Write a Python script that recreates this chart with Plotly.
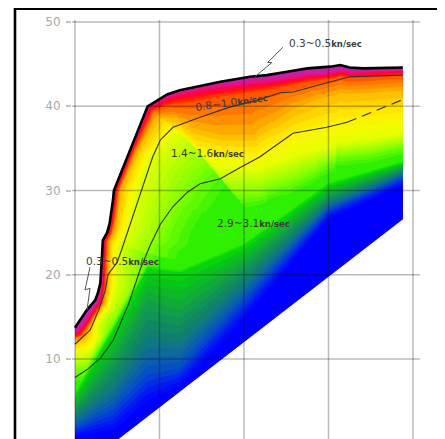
import numpy as np
import plotly.graph_objects as go

# ---------------- data ----------------
# top boundary (ground surface) of the section
surf_x = [0.0, 0.06, 0.14, 0.24, 0.27, 0.30, 0.31, 0.33, 0.38, 0.41, 0.45, 0.46, 0.86,
          0.97, 1.09, 1.24, 1.48, 1.72, 2.07, 2.27, 2.51, 2.75, 3.02, 3.14, 3.25, 3.41, 3.88]
surf_y = [13.7, 14.6, 15.8, 17.0, 17.8, 19.0, 20.9, 24.1, 25.0, 26.1, 28.9, 30.0, 40.0,
          40.7, 41.4, 41.9, 42.4, 42.9, 43.5, 43.7, 44.1, 44.5, 44.7, 44.9, 44.6, 44.5, 44.6]
# bottom (diagonal) boundary
bottom_x = [0.0, 3.88]
bottom_y = [-3.6, 26.5]

# shallow velocity bands: distance (px) below the surface, at stations along the surface
st_x     = [0.0, 0.1, 0.24, 0.33, 0.45, 0.65, 0.86, 1.24, 1.6, 2.0, 2.5, 3.0, 3.4, 3.88]
d_mag    = [4,   5,   3,    0.4,  0.4,  0.4,  0.5,  0.6,  1.0, 4,   5,   6,   3,   2]
d_red    = [9,   9,   7,    3.5,  3.5,  3.5,  6,    13,   14,  15,  14,  12,  9,   7]
d_orange = [13,  11.5, 10,  6.5,  6.5,  7,    13,   37,   52,  58,  38,  29,  25,  23]
d_yellow = [27,  17,  16,   15,   22,   22,   45,   75,   88,  94,  84,  81,  72,  66]
d_yg     = [45,  32,  30,   45,   70,   80,   105,  110,  118, 120, 108, 96,  88,  80]
d_green  = [55,  45,  45,   65,   95,   105,  135,  128,  132, 129, 118, 106, 97,  88]
shallow_v = [0.3, 0.4, 1.0, 1.4, 2.0, 2.8, 3.05]

# deep velocity isolines (depth value) at columns
deep_x = [0.0, 0.45, 0.86, 1.24, 2.0, 3.0, 3.88]
deep_v = [3.2, 3.6, 4.0, 4.4, 4.8]
y_v32 = [5.73, 13.4, 20.8, 20.3, 23.5, 30.7, 33.3]
y_v36 = [4.19, 9.9, 17.0, 15.8, 21.2, 29.5, 32.7]
y_v40 = [3.0, 6.6, 12.3, 12.0, 19.0, 28.5, 32.1]
y_v44 = [1.8, 4.0, 8.1, 8.9, 17.0, 27.7, 31.5]
y_v48 = [0.87, 1.6, 5.1, 6.8, 14.9, 26.7, 30.7]

# colour of velocity (km/sec)
vel_anchor = [0.35, 0.5, 0.7, 0.9, 1.1, 1.3, 1.5, 1.7, 1.9, 2.1, 2.3, 2.5, 2.7, 2.9,
              3.1, 3.3, 3.5, 3.7, 3.9, 4.1, 4.3, 4.5, 4.7, 4.85]
col_anchor = ["#c81ea6", "#e81080", "#ff0038", "#ff2000", "#ff6a00", "#ff9c00", "#ffcc00",
              "#fff000", "#f0ff00", "#d4ff00", "#b8ff00", "#9cff00", "#7cff00", "#55f800",
              "#22ee00", "#00cc10", "#10b030", "#109850", "#108468", "#107090", "#0858b8",
              "#0038e0", "#0010f8", "#0000ff"]

# layer boundary lines
line_a_x = [0.0, 0.18, 0.28, 0.36, 0.39, 0.50, 0.56, 0.62, 0.69, 0.77, 0.85, 0.92, 1.01,
            1.16, 1.48, 1.83, 2.15, 2.43, 2.58, 2.98, 3.25, 3.88]
line_a_y = [11.75, 13.45, 15.8, 18.2, 20.0, 21.5, 23.2, 25.0, 27.3, 29.7, 32.1, 34.0, 36.0,
            37.5, 38.7, 39.9, 40.7, 41.6, 41.7, 42.8, 43.5, 43.7]
line_b_x = [0.0, 0.15, 0.30, 0.45, 0.63, 0.77, 0.89, 1.01, 1.16, 1.33, 1.48, 1.72, 1.95,
            2.19, 2.58, 2.98, 3.22]
line_b_y = [7.8, 8.8, 10.1, 12.2, 16.4, 20.6, 23.5, 26.0, 28.1, 29.8, 30.8, 31.4, 32.7,
            34.0, 36.8, 37.5, 38.1]
line_b_dash_x = [3.22, 3.88]
line_b_dash_y = [38.1, 40.8]

# labels
label_main = ["0.3~0.5", "0.8~1.0", "1.4~1.6", "2.9~3.1", "0.3~0.5"]
label_unit = "kn/sec"
label_x = [2.97, 1.85, 1.57, 2.11, 0.56]
label_y = [47.5, 40.5, 34.4, 26.1, 21.6]
label_angle = [0, -8, 0, 0, 0]
leader1_x = [2.46, 2.28, 2.33, 2.13]
leader1_y = [47.0, 45.2, 45.2, 43.5]
leader2_x = [0.178, 0.118, 0.178, 0.142]
leader2_y = [20.9, 18.2, 18.4, 15.8]

x_ticks = [0, 1, 2, 3, 4]
y_ticks = [10, 20, 30, 40, 50]

# ---------------- velocity field ----------------
PXX, PXY = 84.5, 8.425
gx = np.linspace(0.0, 3.88, 260)
gy = np.linspace(-4.0, 45.6, 360)
GX, GY = np.meshgrid(gx, gy)
PX, PY = GX * PXX, GY * PXY
sx = np.array(surf_x) * PXX
sy = np.array(surf_y) * PXY
best = np.full(GX.shape, np.inf)
bestx = np.zeros(GX.shape)
for i in range(len(sx) - 1):
    ax, ay, bx, by = sx[i], sy[i], sx[i + 1], sy[i + 1]
    dx, dy = bx - ax, by - ay
    t = np.clip(((PX - ax) * dx + (PY - ay) * dy) / (dx * dx + dy * dy), 0, 1)
    qx, qy = ax + t * dx, ay + t * dy
    d = np.hypot(PX - qx, PY - qy)
    m = d < best
    best = np.where(m, d, best)
    bestx = np.where(m, qx / PXX, bestx)


def ramp(val, keys, vals):
    out = np.full(val.shape, float(vals[0]))
    for i in range(len(vals) - 1):
        k0, k1 = keys[i], keys[i + 1]
        t = np.clip((val - k0) / np.maximum(k1 - k0, 1e-6), 0, 1)
        out = out + t * (vals[i + 1] - vals[i])
    return out


skeys = [np.zeros(GX.shape)] + [np.interp(bestx, st_x, a) for a in
                                 (d_mag, d_red, d_orange, d_yellow, d_yg, d_green)]
v_s = ramp(best, skeys, shallow_v)

dkeys = [-np.interp(GX, deep_x, a) for a in (y_v32, y_v36, y_v40, y_v44, y_v48)]
e = -GY
v_d = ramp(e, dkeys, deep_v) - np.clip(dkeys[0] - e, 0, None) * 0.6
v_d = v_d + np.clip(e - dkeys[-1], 0, None) * 0.1
V = np.minimum(np.maximum(v_s, v_d), 5.0)

c_start, c_end, c_size = 0.4, 4.8, 0.1
cmin, cmax = c_start - c_size / 2, c_end + c_size / 2
colorscale = [[min(max((v - cmin) / (cmax - cmin), 0), 1), c]
              for v, c in zip(vel_anchor, col_anchor)]

fig = go.Figure()
fig.add_trace(go.Contour(
    x=gx, y=gy, z=V, colorscale=colorscale, showscale=False, hoverinfo="skip",
    contours=dict(start=c_start, end=c_end, size=c_size, coloring="fill", showlines=False),
    line=dict(width=0)))

# white masks outside the section
bx0, bx1 = bottom_x
by0, by1 = bottom_y
fig.add_trace(go.Scatter(
    x=[bx0, bx1, bx1 + 0.1, bx1 + 0.1, bx0 - 0.1, bx0 - 0.1],
    y=[by0, by1, by1, by0 - 5, by0 - 5, by0],
    fill="toself", fillcolor="white", mode="lines", line=dict(color="white", width=1.2),
    hoverinfo="skip", showlegend=False))
fig.add_trace(go.Scatter(
    x=[surf_x[0] - 0.1] + surf_x + [surf_x[-1] + 0.1, surf_x[-1] + 0.1, surf_x[0] - 0.1],
    y=[surf_y[0]] + surf_y + [surf_y[-1], 52, 52],
    fill="toself", fillcolor="white", mode="lines", line=dict(color="white", width=0),
    hoverinfo="skip", showlegend=False))

for lx, ly, dash in [(line_a_x, line_a_y, "solid"), (line_b_x, line_b_y, "solid"),
                     (line_b_dash_x, line_b_dash_y, "10px,6px")]:
    fig.add_trace(go.Scatter(x=lx, y=ly, mode="lines", hoverinfo="skip", showlegend=False,
                             line=dict(color="#333333", width=1.1, dash=dash)))

fig.add_trace(go.Scatter(x=surf_x, y=surf_y, mode="lines", hoverinfo="skip", showlegend=False,
                         line=dict(color="black", width=2.6)))
for lx, ly in [(leader1_x, leader1_y), (leader2_x, leader2_y)]:
    fig.add_trace(go.Scatter(x=lx, y=ly, mode="lines", hoverinfo="skip", showlegend=False,
                             line=dict(color="#555555", width=1)))

for t, x, y, a in zip(label_main, label_x, label_y, label_angle):
    fig.add_annotation(
        x=x, y=y, xref="x", yref="y", showarrow=False, textangle=a,
        text=t + "<span style='font-size:8.5px'><b>" + label_unit + "</b></span>",
        font=dict(family="DejaVu Sans", size=10.5, color="#3c3c3c"),
        xanchor="center", yanchor="middle")

grid_col = "rgba(0,0,0,0.27)"
shapes = []
for yv in y_ticks:
    shapes.append(dict(type="line", xref="paper", yref="y", x0=0, x1=1, y0=yv, y1=yv,
                       line=dict(color=grid_col, width=1.5), layer="above"))
for xv in x_ticks:
    shapes.append(dict(type="line", xref="x", yref="paper", x0=xv, x1=xv, y0=0, y1=1,
                       line=dict(color=grid_col, width=1.5), layer="above"))
shapes.append(dict(type="rect", xref="paper", yref="paper", x0=-0.1638, x1=1.3, y0=-0.2,
                   y1=1.0267, line=dict(color="black", width=2.6), fillcolor="rgba(0,0,0,0)"))

# page body has an 8px margin: margins compensate so the plot lands where the reference is
fig.update_layout(
    width=445, height=439, margin=dict(l=64, r=33, t=12, b=8, autoexpand=False),
    paper_bgcolor="white", plot_bgcolor="white", showlegend=False, shapes=shapes,
    xaxis=dict(range=[-0.0355, 4.083], showgrid=False, zeroline=False, showticklabels=False,
               ticks="", showline=False, fixedrange=True),
    yaxis=dict(range=[0.505, 50.24], showgrid=False, zeroline=False, tickvals=y_ticks,
               ticks="outside", ticklen=5, tickwidth=1.5, tickcolor="#c4c4c4",
               ticklabelstandoff=3,
               tickfont=dict(family="DejaVu Sans", size=12, color="#a8a8a8"),
               showline=False, fixedrange=True),
)
fig.write_html("out.html")
